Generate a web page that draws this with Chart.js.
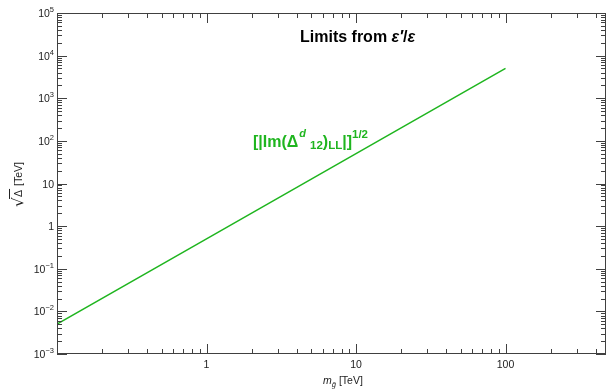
<!DOCTYPE html>
<html>
<head>
<meta charset="utf-8">
<script src="https://cdn.jsdelivr.net/npm/chart.js@4.4.1/dist/chart.umd.min.js"></script>
<style>
  html, body { margin: 0; padding: 0; background: #ffffff; }
  #wrap { width: 607px; height: 392px; position: relative; }
</style>
</head>
<body>
<div id="wrap"><canvas id="c" width="607" height="392"></canvas></div>
<script>
// ---- data ----
const gluinoMass = [0.1, 1, 10, 100];            // m_gluino [TeV]
const sqrtDeltaLimit = [0.005, 0.5, 50, 5000];  // sqrt(Delta) [TeV]

const xMajorTicks = [0.1, 1, 10, 100];
const xTickLabels = ['', '1', '10', '100'];
const yMajorTicks = [1e5, 1e4, 1e3, 1e2, 10, 1, 0.1, 0.01, 0.001];
const yTickBases = ['10', '10', '10', '10', '10', '1', '10', '10', '10'];
const yTickExps  = ['5', '4', '3', '2', '', '', '\u22121', '\u22122', '\u22123'];

const titleText = 'Limits from ';
const seriesColor = '#1fb51f';
const axisColor = '#404040';

function minorTicks(lo, hi) {
  const out = [];
  for (let e = Math.floor(Math.log10(lo)); e <= Math.ceil(Math.log10(hi)); e++) {
    for (let k = 2; k <= 9; k++) {
      const v = k * Math.pow(10, e);
      if (v > lo && v < hi) out.push(v);
    }
  }
  return out;
}

const decorPlugin = {
  id: 'decor',
  afterDraw(chart) {
    const ctx = chart.ctx;
    const a = chart.chartArea;
    const xs = chart.scales.x, ys = chart.scales.y;
    ctx.save();
    // frame
    ctx.strokeStyle = axisColor;
    ctx.lineWidth = 1;
    ctx.strokeRect(a.left + 0.5, a.top + 0.5, a.right - a.left - 1, a.bottom - a.top - 1);

    // x ticks (bottom up, top down)
    ctx.beginPath();
    const xMinor = minorTicks(xs.min, xs.max);
    for (const v of xMinor) {
      const px = Math.round(xs.getPixelForValue(v)) + 0.5;
      ctx.moveTo(px, a.bottom); ctx.lineTo(px, a.bottom - 5);
      ctx.moveTo(px, a.top); ctx.lineTo(px, a.top + 5);
    }
    for (const v of xMajorTicks) {
      const px = Math.round(xs.getPixelForValue(v)) + 0.5;
      ctx.moveTo(px, a.bottom); ctx.lineTo(px, a.bottom - 10);
      ctx.moveTo(px, a.top); ctx.lineTo(px, a.top + 10);
    }
    // y ticks (left to right, right to left)
    const yMinor = minorTicks(ys.min, ys.max);
    for (const v of yMinor) {
      const py = Math.round(ys.getPixelForValue(v)) + 0.5;
      ctx.moveTo(a.left, py); ctx.lineTo(a.left + 5, py);
      ctx.moveTo(a.right, py); ctx.lineTo(a.right - 5, py);
    }
    for (const v of yMajorTicks) {
      const py = Math.round(ys.getPixelForValue(v)) + 0.5;
      ctx.moveTo(a.left, py); ctx.lineTo(a.left + 10, py);
      ctx.moveTo(a.right, py); ctx.lineTo(a.right - 10, py);
    }
    ctx.stroke();

    // x tick labels
    ctx.fillStyle = '#222';
    ctx.font = '10.5px "Liberation Sans", Arial, sans-serif';
    ctx.textAlign = 'center';
    ctx.textBaseline = 'alphabetic';
    xMajorTicks.forEach((v, i) => {
      if (!xTickLabels[i]) return;
      ctx.fillText(xTickLabels[i], xs.getPixelForValue(v), a.bottom + 14);
    });

    // y tick labels with superscripts
    yMajorTicks.forEach((v, i) => {
      const py = ys.getPixelForValue(v) + 4;
      const base = yTickBases[i], exp = yTickExps[i];
      const right = a.left - 3;
      ctx.textAlign = 'left';
      ctx.font = '7.5px "Liberation Sans", Arial, sans-serif';
      const ew = exp ? ctx.measureText(exp).width : 0;
      ctx.font = '10.5px "Liberation Sans", Arial, sans-serif';
      const bw = ctx.measureText(base).width;
      const x0 = right - ew - bw;
      ctx.fillText(base, x0, py);
      if (exp) {
        ctx.font = '7.5px "Liberation Sans", Arial, sans-serif';
        ctx.fillText(exp, x0 + bw, py - 5);
      }
    });

    // x axis title: m_g~ [TeV]
    ctx.textAlign = 'left';
    let x = 323, yb = 384;
    ctx.font = 'italic 10.5px "Liberation Sans", Arial, sans-serif';
    ctx.fillText('m', x, yb); x += ctx.measureText('m').width;
    ctx.font = 'italic 7.5px "Liberation Sans", Arial, sans-serif';
    ctx.fillText('g\u0303', x, yb + 3); x += ctx.measureText('g').width + 3;
    ctx.font = '10.5px "Liberation Sans", Arial, sans-serif';
    ctx.fillText('[TeV]', x, yb);

    // y axis title: sqrt(Delta) [TeV], rotated
    ctx.save();
    ctx.translate(22, 207);
    ctx.rotate(-Math.PI / 2);
    ctx.font = '15px "DejaVu Sans", sans-serif';
    ctx.fillText('\u221A', 0, 1);
    let rx = ctx.measureText('\u221A').width - 0.5;
    ctx.font = '10.5px "Liberation Sans", Arial, sans-serif';
    const dw = ctx.measureText('\u0394').width;
    ctx.fillText('\u0394', rx + 1, 0);
    ctx.beginPath();
    ctx.lineWidth = 1;
    ctx.strokeStyle = '#222';
    ctx.moveTo(rx - 1, -12.5); ctx.lineTo(rx + dw + 2, -12.5);
    ctx.stroke();
    ctx.fillText(' [TeV]', rx + dw + 2, 0);
    ctx.restore();

    // title
    ctx.fillStyle = '#000';
    ctx.font = 'bold 16px "Liberation Sans", Arial, sans-serif';
    let tx = 300;
    ctx.fillText(titleText, tx, 42); tx += ctx.measureText(titleText).width;
    ctx.font = 'bold italic 16px "Liberation Sans", Arial, sans-serif';
    ctx.fillText('\u03B5\u2032', tx, 42); tx += ctx.measureText('\u03B5\u2032').width;
    ctx.font = 'bold 16px "Liberation Sans", Arial, sans-serif';
    ctx.fillText('/', tx, 42); tx += ctx.measureText('/').width;
    ctx.font = 'bold italic 16px "Liberation Sans", Arial, sans-serif';
    ctx.fillText('\u03B5', tx, 42);

    // series label
    ctx.fillStyle = seriesColor;
    const big = 'bold 16px "Liberation Sans", Arial, sans-serif';
    const small = 'bold 11.5px "Liberation Sans", Arial, sans-serif';
    const smallIt = 'bold italic 11px "Liberation Sans", Arial, sans-serif';
    let lx = 253; const lb = 147;
    const seg = (t, f, dy, extra) => { ctx.font = f; ctx.fillText(t, lx, lb + dy); lx += ctx.measureText(t).width + (extra || 0); };
    seg('[|Im(\u0394', big, 0, 1);
    seg('d', smallIt, -10, 4);
    seg('12', small, 2, 0);
    seg(')', big, 0, 0);
    seg('LL', small, 2, 0);
    seg('|]', big, 0, 0);
    seg('1/2', small, -9, 0);

    ctx.restore();
  }
};

const chart = new Chart(document.getElementById('c'), {
  type: 'line',
  data: {
    datasets: [{
      data: gluinoMass.map((m, i) => ({ x: m, y: sqrtDeltaLimit[i] })),
      borderColor: seriesColor,
      borderWidth: 1.5,
      pointRadius: 0,
      fill: false,
      tension: 0
    }]
  },
  options: {
    responsive: false,
    animation: false,
    devicePixelRatio: 1,
    layout: { padding: { top: 13, right: 1, left: 0, bottom: 0 } },
    plugins: { legend: { display: false }, tooltip: { enabled: false } },
    scales: {
      x: {
        type: 'logarithmic', min: 0.1, max: 470,
        grid: { display: false }, border: { display: false },
        ticks: { display: false },
        afterFit: (s) => { s.height = 38; }
      },
      y: {
        type: 'logarithmic', min: 0.001, max: 100000,
        grid: { display: false }, border: { display: false },
        ticks: { display: false },
        afterFit: (s) => { s.width = 57; }
      }
    }
  },
  plugins: [decorPlugin]
});
</script>
</body>
</html>
